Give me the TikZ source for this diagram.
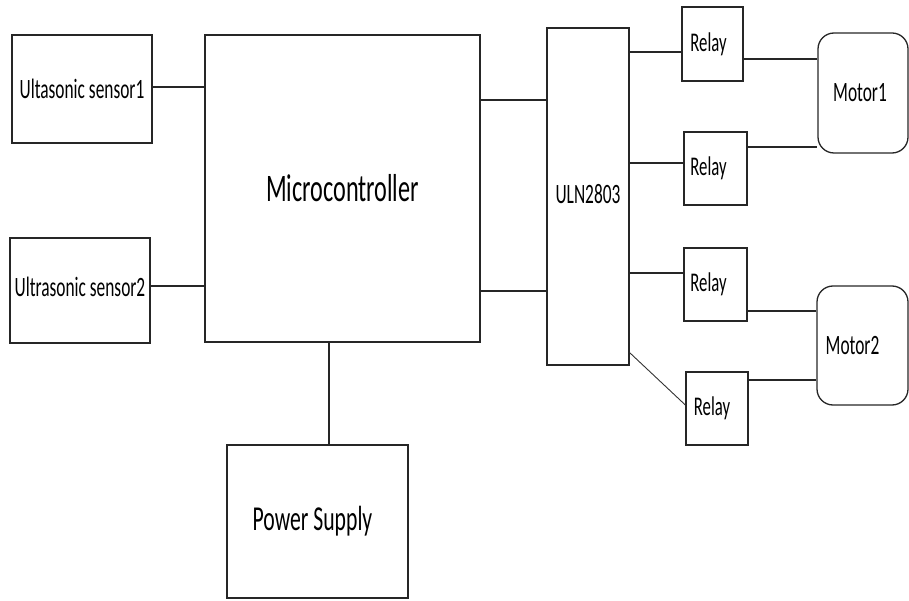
\documentclass[tikz,border=0pt]{standalone}
\usepackage{fontspec}
\setmainfont{Carlito}[FakeStretch=0.62]
\begin{document}
\begin{tikzpicture}[x=1pt,y=-1pt,
  blk/.style={draw=black!85,line width=1.3pt,rectangle,inner sep=0pt,align=center},
  motorbox/.style={blk,rounded corners=16pt},
  wire/.style={draw=black!85,line width=1.3pt},
  thinwire/.style={draw=black!80,line width=0.9pt}]
\useasboundingbox (0,0) rectangle (909,601);
% blocks
\node[blk,minimum width=140pt,minimum height=108pt,font=\fontsize{28}{30}\selectfont] (s1) at (82,89) {\raisebox{-3pt}{Ultasonic sensor1}};
\node[blk,minimum width=140pt,minimum height=105pt,font=\fontsize{28}{30}\selectfont] (s2) at (80,290.5) {\raisebox{8pt}{Ultrasonic sensor2}};
\node[blk,minimum width=275pt,minimum height=307pt,font=\fontsize{39}{42}\selectfont] (mc) at (342.5,188.5) {Microcontroller};
\node[blk,minimum width=181pt,minimum height=153pt,font=\fontsize{35}{38}\selectfont] (ps) at (317.5,521.5) {\hspace*{-10pt}Power Supply};
\node[blk,minimum width=82pt,minimum height=337pt,font=\fontsize{28}{30}\selectfont] (uln) at (588,196.5) {\raisebox{6pt}{ULN2803}};
\node[blk,minimum width=61pt,minimum height=74pt,font=\fontsize{27}{29}\selectfont] (r1) at (712.5,44) {\hspace*{-8pt}Relay};
\node[blk,minimum width=63pt,minimum height=73pt,font=\fontsize{27}{29}\selectfont] (r2) at (715.5,168.5) {\hspace*{-14pt}\raisebox{3pt}{Relay}};
\node[blk,minimum width=63pt,minimum height=73pt,font=\fontsize{27}{29}\selectfont] (r3) at (715.5,284.5) {\hspace*{-14pt}\raisebox{4pt}{Relay}};
\node[blk,minimum width=62pt,minimum height=73pt,font=\fontsize{27}{29}\selectfont] (r4) at (717,408.5) {\hspace*{-10pt}\raisebox{3pt}{Relay}};
\node[motorbox,minimum width=90pt,minimum height=120pt,font=\fontsize{28}{30}\selectfont] (m1) at (863,93) {\hspace*{-6pt}Motor1};
\node[motorbox,minimum width=91pt,minimum height=119pt,font=\fontsize{28}{30}\selectfont] (m2) at (862.5,345.5) {\hspace*{-20pt}Motor2};
% connection points
\coordinate (s1o) at ([yshift=2pt]s1.east);
\coordinate (s2o) at ([yshift=4.5pt]s2.east);
\coordinate (mo1) at ([yshift=88.5pt]mc.east);
\coordinate (mo2) at ([yshift=-102.5pt]mc.east);
\coordinate (r1i) at ([yshift=-8pt]r1.west);
\coordinate (r2i) at ([yshift=5.5pt]r2.west);
\coordinate (r3i) at ([yshift=11.5pt]r3.west);
\coordinate (r4i) at ([yshift=3.5pt]r4.west);
\coordinate (ulo4) at ([yshift=13pt]uln.south east);
\coordinate (r1o) at ([yshift=-15pt]r1.east);
\coordinate (r2o) at ([yshift=21.5pt]r2.east);
\coordinate (r3o) at ([yshift=-26.5pt]r3.east);
\coordinate (r4o) at ([yshift=28.5pt]r4.east);
\coordinate (mcb) at ([xshift=-13.5pt]mc.south);
% wires
\draw[wire] (s1o) -- (s1o -| mc.west);
\draw[wire] (s2o) -- (s2o -| mc.west);
\draw[wire] (mo1) -- (mo1 -| uln.west);
\draw[wire] (mo2) -- (mo2 -| uln.west);
\draw[wire] (mcb) -- (mcb |- ps.north);
\draw[wire] (uln.east |- r1i) -- (r1i);
\draw[wire] (uln.east |- r2i) -- (r2i);
\draw[wire] (uln.east |- r3i) -- (r3i);
\draw[thinwire] (ulo4) -- (r4i);
\draw[wire] (r1o) -- (r1o -| m1.west);
\draw[wire] (r2o) -- (r2o -| m1.west);
\draw[wire] (r3o) -- (r3o -| m2.west);
\draw[wire] (r4o) -- (r4o -| m2.west);
\end{tikzpicture}
\end{document}
